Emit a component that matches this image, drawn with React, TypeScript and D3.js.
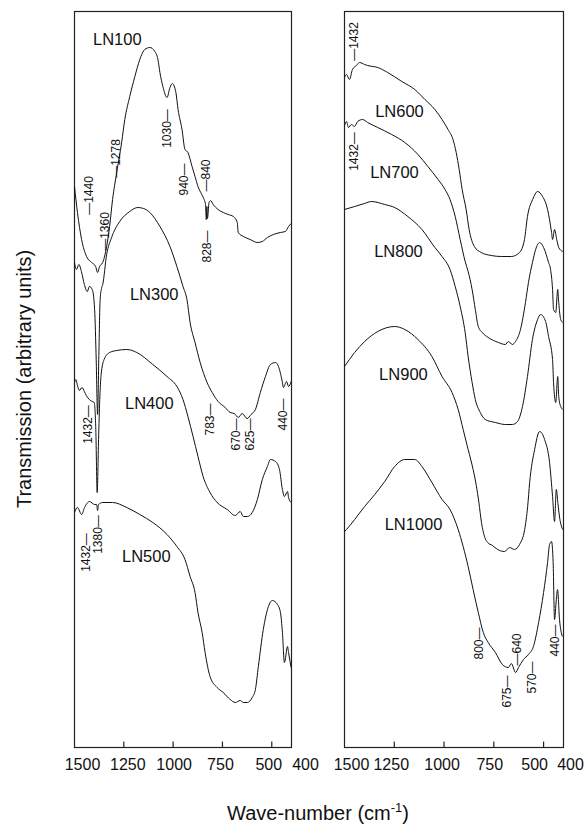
import React, { useEffect, useRef } from 'react';
import * as d3 from 'd3';

// [wavenumber (cm-1), transmission (arbitrary units, curves already offset)]
type Pt = [number, number];

const WAVENUMBER_TICKS = [1500, 1250, 1000, 750, 500, 400];
const INNER_TICKS = [1250, 1000, 750, 500];
// the printed labels are not exactly centred on their ticks
const LEFT_LABEL_SHIFT = [8, 4, 1, -2, -3, 14];
const RIGHT_LABEL_SHIFT = [7, -3, -2, -4, -9, 7];

const LN100: Pt[] = [
  [1500, 561], [1485, 535], [1464, 508], [1439, 491], [1413, 485], [1393, 481], [1383, 475], [1373, 481],
  [1357, 485], [1337, 501], [1322, 521], [1307, 548], [1286, 575], [1261, 605], [1245, 628], [1220, 651],
  [1194, 671], [1169, 688], [1144, 698], [1118, 700], [1093, 696], [1077, 688], [1067, 675], [1052, 661],
  [1031, 650], [1016, 660], [1004, 664], [986, 655], [975, 638], [955, 618], [940, 598], [925, 595],
  [904, 581], [889, 571], [874, 561], [855, 553], [845, 549], [836, 543], [832, 528], [829, 541],
  [826, 529], [818, 545], [810, 547], [797, 543], [772, 538], [746, 535], [721, 533], [695, 531],
  [675, 525], [670, 515], [644, 511], [609, 508], [573, 505], [548, 506], [522, 510], [492, 513],
  [456, 515], [431, 516], [415, 521], [402, 524],
];

const LN300: Pt[] = [
  [1500, 485], [1490, 478], [1478, 483], [1465, 476], [1450, 463], [1435, 456], [1425, 461], [1410, 458],
  [1398, 438], [1390, 388], [1383, 333], [1377, 388], [1370, 448], [1362, 460], [1357, 463], [1337, 493],
  [1312, 510], [1271, 526], [1220, 536], [1179, 540], [1150, 539], [1118, 535], [1067, 521], [1016, 501],
  [981, 481], [950, 461], [930, 448], [914, 425], [889, 405], [863, 385], [828, 365], [802, 355],
  [772, 346], [736, 340], [711, 335], [690, 334], [670, 330], [650, 334], [625, 329], [605, 333],
  [583, 338], [558, 355], [532, 371], [507, 383], [481, 385], [466, 381], [446, 365], [441, 360],
  [425, 366], [415, 361], [402, 366],
];

const LN400: Pt[] = [
  [1500, 365], [1493, 368], [1485, 362], [1475, 357], [1462, 360], [1450, 356], [1440, 352], [1425, 348],
  [1410, 346], [1400, 345], [1392, 318], [1385, 255], [1378, 308], [1372, 348], [1365, 373], [1350, 388],
  [1322, 395], [1286, 397], [1235, 398], [1184, 395], [1103, 383], [1031, 371], [981, 361], [950, 348],
  [925, 331], [899, 311], [874, 291], [848, 271], [813, 255], [777, 245], [726, 238], [685, 232],
  [660, 236], [644, 231], [624, 231], [599, 235], [573, 248], [548, 268], [522, 281], [507, 288],
  [481, 286], [461, 278], [446, 258], [436, 251], [420, 256], [415, 250], [402, 245],
];

const LN500: Pt[] = [
  [1500, 235], [1485, 240], [1464, 233], [1449, 240], [1424, 246], [1398, 243], [1388, 243], [1383, 237],
  [1378, 243], [1357, 245], [1307, 245], [1235, 240], [1169, 233], [1103, 225], [1031, 213], [981, 201],
  [940, 188], [914, 171], [889, 155], [874, 135], [853, 115], [838, 95], [813, 71], [777, 60],
  [746, 55], [711, 48], [685, 45], [660, 47], [644, 45], [624, 45], [599, 50], [583, 58],
  [568, 81], [543, 118], [517, 141], [497, 147], [471, 143], [456, 135], [446, 115], [436, 85],
  [420, 101], [415, 95], [402, 80],
];

const LN600: Pt[] = [
  [1500, 670], [1490, 673], [1475, 668], [1460, 678], [1440, 682], [1424, 685], [1399, 683], [1384, 682],
  [1333, 680], [1283, 675], [1212, 666], [1147, 658], [1096, 648], [1046, 638], [1010, 628], [980, 618],
  [955, 608], [939, 595], [924, 578], [909, 558], [889, 538], [874, 518], [848, 501], [813, 495],
  [763, 492], [712, 491], [662, 491], [621, 495], [596, 508], [581, 531], [555, 548], [530, 556],
  [505, 551], [480, 538], [460, 515], [455, 508], [445, 518], [434, 508], [424, 500], [404, 496],
];

const LN700: Pt[] = [
  [1500, 622], [1490, 626], [1480, 620], [1465, 623], [1450, 621], [1434, 626], [1409, 628], [1384, 625],
  [1333, 620], [1263, 613], [1197, 605], [1131, 593], [1081, 581], [1030, 568], [995, 558], [970, 548],
  [944, 531], [919, 508], [894, 486], [879, 476], [859, 458], [843, 438], [828, 421], [808, 415],
  [778, 410], [727, 405], [692, 403], [677, 406], [657, 403], [641, 406], [616, 418], [591, 445],
  [576, 465], [556, 485], [540, 498], [520, 505], [500, 500], [475, 485], [465, 478], [455, 458],
  [450, 438], [439, 435], [429, 458], [424, 445], [414, 428], [404, 425],
];

const LN800: Pt[] = [
  [1500, 538], [1449, 541], [1400, 544], [1364, 546], [1298, 543], [1248, 540], [1182, 531], [1111, 518],
  [1046, 500], [1010, 491], [970, 478], [944, 461], [919, 441], [894, 415], [879, 391], [859, 365],
  [843, 348], [818, 335], [793, 328], [742, 325], [692, 323], [657, 323], [631, 326], [606, 341],
  [581, 371], [556, 408], [530, 428], [515, 433], [490, 426], [475, 411], [455, 388], [450, 365],
  [439, 345], [429, 371], [424, 351], [414, 341], [404, 338],
];

const LN900: Pt[] = [
  [1500, 381], [1449, 395], [1399, 406], [1333, 416], [1248, 421], [1197, 418], [1131, 408], [1061, 391],
  [1010, 371], [960, 355], [929, 338], [904, 318], [879, 298], [854, 278], [838, 262], [825, 245],
  [812, 225], [795, 210], [781, 205], [757, 202], [731, 198], [696, 196], [671, 200], [646, 198],
  [621, 203], [595, 218], [580, 241], [570, 265], [545, 298], [520, 316], [495, 308], [470, 285],
  [455, 251], [445, 226], [436, 258], [428, 244], [418, 228], [404, 218],
];

const LN1000: Pt[] = [
  [1500, 216], [1490, 218], [1449, 228], [1399, 241], [1348, 253], [1298, 266], [1248, 281], [1197, 288],
  [1147, 288], [1111, 281], [1061, 265], [1010, 248], [970, 238], [929, 218], [904, 201], [879, 181],
  [854, 158], [828, 135], [803, 115], [778, 105], [742, 95], [707, 83], [677, 80], [662, 84],
  [641, 75], [626, 80], [601, 88], [576, 93], [551, 101], [525, 125], [500, 155], [480, 185],
  [470, 203], [460, 206], [452, 185], [445, 128], [436, 148], [430, 158], [420, 128], [406, 111],
];

// series name labels: [text, wavenumber at centre, level]
const LEFT_NAMES: [string, number, number][] = [
  ['LN100', 1283, 709], ['LN300', 1096, 454], ['LN400', 1121, 345], ['LN500', 1136, 192],
];
const RIGHT_NAMES: [string, number, number][] = [
  ['LN600', 1224, 637], ['LN700', 1249, 576], ['LN800', 1229, 497], ['LN900', 1204, 374], ['LN1000', 1153, 224],
];

// band assignments, written vertically
const LEFT_BANDS: [string, number, number][] = [
  ['\u20141440', 1429, 552], ['\u20141360', 1343, 516], ['\u20141278', 1288, 589], ['1030\u2014', 1030, 619],
  ['940\u2014', 944, 568], ['\u2014840', 833, 572], ['828\u2014', 828, 501], ['783\u2014', 813, 328],
  ['670\u2014', 682, 313], ['625\u2014', 611, 313], ['440\u2014', 444, 333], ['1432\u2014', 1434, 323],
  ['1432\u2014', 1444, 195], ['1380\u2014', 1379, 213],
];
const RIGHT_BANDS: [string, number, number][] = [
  ['\u20141432', 1450, 706], ['1432\u2014', 1450, 596], ['800\u2014', 822, 104], ['\u2014640', 636, 98],
  ['675\u2014', 686, 56], ['570\u2014', 560, 70], ['440\u2014', 445, 107],
];

const FONT = '"Liberation Sans", Arial, Helvetica, sans-serif';

const App: React.FC = () => {
  const svgRef = useRef<SVGSVGElement>(null);

  useEffect(() => {
    if (!svgRef.current) return;
    const svg = d3.select(svgRef.current);
    svg.selectAll('*').remove();

    const top = 11.5;
    const bottom = 747.5;
    const y = d3.scaleLinear().domain([0, 736]).range([bottom, top]);

    const panels = [
      { x0: 74.5, x1: 291.5, shift: LEFT_LABEL_SHIFT, series: [LN100, LN300, LN400, LN500], names: LEFT_NAMES, bands: LEFT_BANDS },
      { x0: 344.5, x1: 563.5, shift: RIGHT_LABEL_SHIFT, series: [LN600, LN700, LN800, LN900, LN1000], names: RIGHT_NAMES, bands: RIGHT_BANDS },
    ];

    panels.forEach(p => {
      const x = d3.scaleLinear().domain([1500, 400]).range([p.x0, p.x1]);
      const g = svg.append('g');

      g.append('rect')
        .attr('x', p.x0).attr('y', top)
        .attr('width', p.x1 - p.x0).attr('height', bottom - top)
        .attr('fill', 'none').attr('stroke', '#222').attr('stroke-width', 1.2);

      // small inward ticks on the bottom edge
      g.selectAll('.tick')
        .data(INNER_TICKS)
        .enter().append('line')
        .attr('x1', d => x(d)).attr('x2', d => x(d))
        .attr('y1', bottom).attr('y2', bottom - 6)
        .attr('stroke', '#222').attr('stroke-width', 1.2);

      g.selectAll('.ticklabel')
        .data(WAVENUMBER_TICKS)
        .enter().append('text')
        .attr('x', (d, i) => x(d) + p.shift[i])
        .attr('y', 770)
        .attr('text-anchor', 'middle')
        .style('font-family', FONT)
        .style('font-size', '16px')
        .style('fill', '#111')
        .text(d => String(d));

      const line = d3.line<Pt>()
        .x(d => x(d[0]))
        .y(d => y(d[1]))
        .curve(d3.curveMonotoneX);

      g.selectAll('.spectrum')
        .data(p.series)
        .enter().append('path')
        .attr('d', d => line(d))
        .attr('fill', 'none')
        .attr('stroke', '#111')
        .attr('stroke-width', 1)
        .attr('stroke-linejoin', 'round');

      g.selectAll('.name')
        .data(p.names)
        .enter().append('text')
        .attr('x', d => x(d[1]))
        .attr('y', d => y(d[2]))
        .attr('text-anchor', 'middle')
        .attr('dominant-baseline', 'central')
        .style('font-family', FONT)
        .style('font-size', '16.5px')
        .style('fill', '#111')
        .text(d => d[0]);

      g.selectAll('.band')
        .data(p.bands)
        .enter().append('text')
        .attr('transform', d => `translate(${x(d[1])},${y(d[2])}) rotate(-90)`)
        .attr('text-anchor', 'middle')
        .attr('dominant-baseline', 'central')
        .style('font-family', FONT)
        .style('font-size', '12px')
        .style('fill', '#111')
        .text(d => d[0]);
    });

    // axis titles
    svg.append('text')
      .attr('transform', 'translate(24,379) rotate(-90)')
      .attr('text-anchor', 'middle')
      .attr('dominant-baseline', 'central')
      .style('font-family', FONT)
      .style('font-size', '20px')
      .style('fill', '#111')
      .text('Transmission (arbitrary units)');

    const xt = svg.append('text')
      .attr('x', 318)
      .attr('y', 820)
      .attr('text-anchor', 'middle')
      .style('font-family', FONT)
      .style('font-size', '20px')
      .style('fill', '#111');
    xt.append('tspan').text('Wave-number (cm');
    xt.append('tspan').attr('dy', -8).style('font-size', '13px').text('-1');
    xt.append('tspan').attr('dy', 8).text(')');
  }, []);

  return (
    <svg
      ref={svgRef}
      width={587}
      height={831}
      viewBox="0 0 587 831"
      style={{ position: 'absolute', left: 0, top: 0, background: '#fff' }}
    />
  );
};

export default App;
